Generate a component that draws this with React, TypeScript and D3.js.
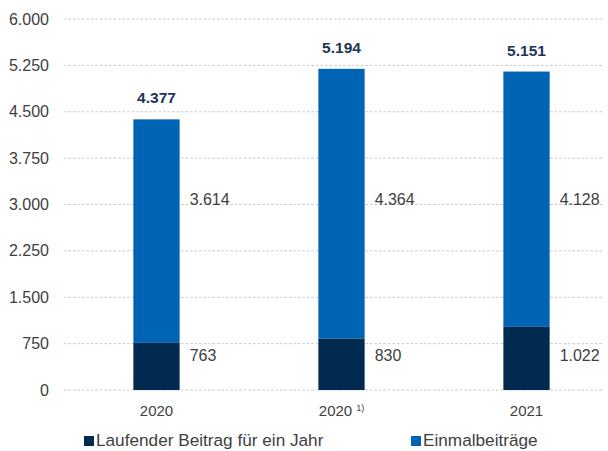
import React from "react";
import * as d3 from "d3";

const categories = ["2020", "2020", "2021"];
const footnotes = ["", "1)", ""];
const laufend = [763, 830, 1022];
const einmal = [3614, 4364, 4128];
const totals = [4377, 5194, 5151];
const yTicks = [0, 750, 1500, 2250, 3000, 3750, 4500, 5250, 6000];
const seriesNames = ["Laufender Beitrag für ein Jahr", "Einmalbeiträge"];

const W = 608;
const H = 451;
const DARK = "#002a4f";
const BLUE = "#0064b4";
const TOTAL_COLOR = "#1b3556";
const TEXT = "#404040";
const FONT = "'Liberation Sans', Arial, sans-serif";

const fmt = (v: number) => {
  const s = String(v);
  return s.length > 3 ? s.slice(0, s.length - 3) + "." + s.slice(s.length - 3) : s;
};

export default function App() {
  const y = d3.scaleLinear().domain([0, 6000]).range([390, 19]);
  const x = d3
    .scaleBand<number>()
    .domain(categories.map((_, i) => i))
    .range([64, 619])
    .paddingInner(0.75)
    .paddingOuter(0.375);
  const bw = x.bandwidth();

  return (
    <svg
      width={W}
      height={H}
      style={{ position: "absolute", left: 0, top: 0, background: "#fff" }}
      fontFamily={FONT}
    >
      {yTicks.map((t) => (
        <g key={t}>
          <line
            x1={64}
            x2={604}
            y1={y(t)}
            y2={y(t)}
            stroke="#c8c8c8"
            strokeWidth={1}
            strokeDasharray="2.5,2"
          />
          <text
            x={49}
            y={y(t)}
            dy="0.35em"
            textAnchor="end"
            fontSize={16}
            fill={TEXT}
          >
            {fmt(t)}
          </text>
        </g>
      ))}
      {categories.map((c, i) => {
        const x0 = x(i)!;
        const cx = x0 + bw / 2;
        const lowTop = y(laufend[i]);
        const top = y(laufend[i] + einmal[i]);
        return (
          <g key={i}>
            <rect x={x0} y={top} width={bw} height={lowTop - top} fill={BLUE} />
            <rect x={x0} y={lowTop} width={bw} height={y(0) - lowTop} fill={DARK} />
            <text
              x={cx}
              y={top - 16}
              textAnchor="middle"
              fontSize={15.5}
              fontWeight="bold"
              fill={TOTAL_COLOR}
            >
              {fmt(totals[i])}
            </text>
            <text x={x0 + bw + 10} y={y(3080)} dy="0.35em" fontSize={16} fill={TEXT}>
              {fmt(einmal[i])}
            </text>
            <text x={x0 + bw + 10} y={y(560)} dy="0.35em" fontSize={16} fill={TEXT}>
              {fmt(laufend[i])}
            </text>
            <text
              x={cx}
              y={416}
              textAnchor="middle"
              fontSize={15}
              fill={TEXT}
            >
              {c}
              {footnotes[i] ? (
                <tspan fontSize={9} dx={4} dy={-5}>
                  {footnotes[i]}
                </tspan>
              ) : null}
            </text>
          </g>
        );
      })}
      <g>
        <rect x={84} y={436} width={10} height={10} fill={DARK} />
        <text x={96} y={446} fontSize={17.2} fill={TEXT}>
          {seriesNames[0]}
        </text>
        <rect x={411} y={436} width={10} height={10} fill={BLUE} />
        <text x={423} y={446} fontSize={17.2} fill={TEXT}>
          {seriesNames[1]}
        </text>
      </g>
    </svg>
  );
}
